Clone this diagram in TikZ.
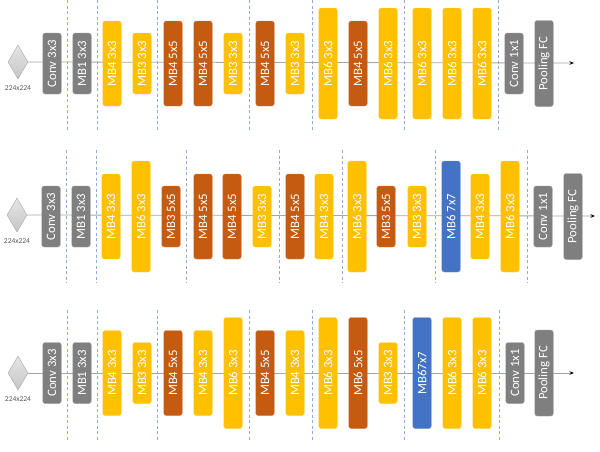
\documentclass[tikz,border=0pt]{standalone}
\usepackage{fontspec}
\setmainfont{Carlito}
\usetikzlibrary{arrows.meta,positioning,shapes.geometric}
\definecolor{gry}{HTML}{7F7F7F}
\definecolor{ylw}{HTML}{FFC000}
\definecolor{org}{HTML}{C55A11}
\definecolor{blu}{HTML}{4472C4}
\definecolor{sepc}{HTML}{8FAADC}
\definecolor{axisc}{HTML}{A6A6A6}
\definecolor{dimc}{HTML}{595959}
\tikzset{
  blk/.style={rectangle,rounded corners=2.5pt,rotate=90,minimum height=18.5pt,inner sep=0pt,
    text=white,font=\fontsize{12.8}{14}\selectfont},
  inp/.style={diamond,draw=axisc,top color=gray!20,bottom color=gray!45,minimum width=20pt,minimum height=34pt,inner sep=0pt},
  dimlab/.style={font=\fontsize{7.5}{8}\selectfont,text=dimc,inner sep=0pt},
  sepline/.style={sepc,dash pattern=on 3pt off 2.5pt,line width=.9pt},
  flow/.style={axisc,line width=.8pt,-{Stealth[black,length=4.5pt,width=3.5pt]}},
}

\begin{document}
\begin{tikzpicture}[x=1pt,y=-1pt]
\useasboundingbox (0,0) rectangle (600,451);

% row 1
\node[inp] (in1) at (18,62) {};
\node[dimlab,below=6.5pt of in1] (d1) {224x224};
\coordinate (e1) at (574,63);
\draw[flow] (in1.east) -- (e1);
\foreach \x in {67,97,157,249,312,404,498}{\draw[sepline] (\x,0)--(\x,130);}
\foreach \x/\c/\h/\lab [count=\i] in {52/gry/61/Conv 3x3,82/gry/61/MB1 3x3,112/ylw/85/MB4 3x3,
  142/ylw/61/MB3 3x3,173/org/85/MB4 5x5,203/org/85/MB4 5x5,233/ylw/61/MB3 3x3,265/org/85/MB4 5x5,
  295/ylw/61/MB3 3x3,328/ylw/111/MB6 3x3,358/org/85/MB4 5x5,388/ylw/111/MB6 3x3,422/ylw/111/MB6 3x3,
  452/ylw/111/MB6 3x3,482/ylw/111/MB6 3x3,514/gry/61/Conv 1x1,544/gry/86/Pooling FC}
  {\node[blk,fill=\c,draw=\c!75!white,minimum width=\h pt] (a\i) at (\x,63.5) {\lab};}

% row 2
\node[inp] (in2) at (17,215) {};
\node[dimlab,below=6.5pt of in2] (d2) {224x224};
\coordinate (e2) at (595,216);
\draw[flow] (in2.east) -- (e2);
\foreach \x in {66,96,186,279,342,435,527}{\draw[sepline] (\x,150)--(\x,283);}
\foreach \x/\c/\h/\lab [count=\i] in {51/gry/61/Conv 3x3,81/gry/61/MB1 3x3,111/ylw/85/MB4 3x3,
  141/ylw/111/MB6 3x3,171/org/61/MB3 5x5,203/org/85/MB4 5x5,232/org/85/MB4 5x5,262/ylw/61/MB3 3x3,
  295/org/85/MB4 5x5,324/ylw/85/MB4 3x3,357/ylw/111/MB6 3x3,386/org/61/MB3 5x5,417/ylw/61/MB3 3x3,
  451/blu/111/MB6 7x7,480/ylw/85/MB4 3x3,510/ylw/111/MB6 3x3,543/gry/61/Conv 1x1,573/gry/86/Pooling FC}
  {\node[blk,fill=\c,draw=\c!75!white,minimum width=\h pt] (b\i) at (\x,216.5) {\lab};}

% row 3
\node[inp] (in3) at (18,373) {};
\node[dimlab,below=6.5pt of in3] (d3) {224x224};
\coordinate (e3) at (574,373);
\draw[flow] (in3.east) -- (e3);
\foreach \x in {67,97,157,249,312,404,499}{\draw[sepline] (\x,310)--(\x,440);}
\foreach \x/\c/\h/\lab [count=\i] in {52/gry/61/Conv 3x3,82/gry/61/MB1 3x3,112/ylw/85/MB4 3x3,
  142/ylw/61/MB3 3x3,173/org/85/MB4 5x5,203/ylw/85/MB4 3x3,233/ylw/111/MB6 3x3,265/org/85/MB4 5x5,
  295/ylw/85/MB4 3x3,328/ylw/111/MB6 3x3,358/org/111/MB6 5x5,388/ylw/61/MB3 3x3,422/blu/111/MB67x7,
  452/ylw/111/MB6 3x3,482/ylw/111/MB6 3x3,515/gry/61/Conv 1x1,544/gry/86/Pooling FC}
  {\node[blk,fill=\c,draw=\c!75!white,minimum width=\h pt] (c\i) at (\x,373) {\lab};}
\end{tikzpicture}
\end{document}
